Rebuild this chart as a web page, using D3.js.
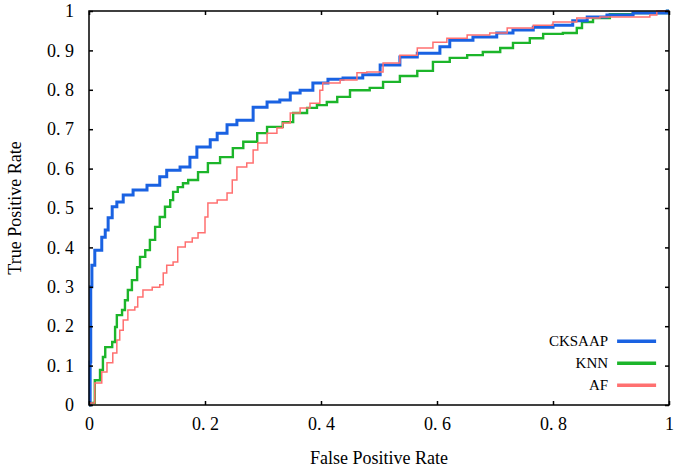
<!DOCTYPE html>
<html>
<head>
<meta charset="utf-8">
<script src="https://cdn.jsdelivr.net/npm/d3@7"></script>
<style>
  body { margin: 0; background: #fff; }
  svg text { font-family: "Liberation Serif", "DejaVu Serif", serif; fill: #000; }
</style>
</head>
<body>
<svg id="chart" width="675" height="470"></svg>
<script>
// ROC points: [false positive rate, true positive rate]
const cksaap = [[0,0],[0.002,0.109],[0.003,0.30],[0.005,0.355],[0.010,0.393],[0.022,0.426],[0.028,0.444],
    [0.033,0.475],[0.040,0.503],[0.048,0.515],[0.059,0.533],[0.076,0.546],[0.100,0.558],[0.122,0.579],
    [0.134,0.596],[0.157,0.604],[0.174,0.629],[0.186,0.655],[0.209,0.673],[0.221,0.690],[0.238,0.711],
    [0.255,0.723],[0.283,0.756],[0.307,0.769],[0.329,0.774],[0.347,0.792],[0.364,0.799],[0.386,0.817],
    [0.412,0.827],[0.438,0.830],[0.472,0.838],[0.502,0.863],[0.536,0.883],[0.566,0.893],[0.605,0.909],
    [0.622,0.926],[0.662,0.934],[0.703,0.944],[0.731,0.952],[0.766,0.959],[0.800,0.964],[0.834,0.975],
    [0.859,0.985],[0.893,0.990],[0.938,0.995],[0.997,1],[1,1]]
const knn = [[0,0],[0.002,0.005],[0.010,0.063],[0.019,0.089],[0.024,0.122],[0.028,0.147],[0.040,0.160],
    [0.045,0.198],[0.048,0.228],[0.057,0.241],[0.062,0.266],[0.067,0.292],[0.074,0.317],[0.083,0.350],
    [0.088,0.376],[0.097,0.393],[0.105,0.419],[0.114,0.452],[0.122,0.477],[0.131,0.503],[0.140,0.520],
    [0.145,0.541],[0.153,0.553],[0.162,0.563],[0.171,0.571],[0.188,0.591],[0.205,0.614],[0.226,0.629],
    [0.248,0.652],[0.266,0.668],[0.290,0.690],[0.307,0.706],[0.334,0.718],[0.352,0.741],[0.376,0.754],
    [0.393,0.761],[0.410,0.769],[0.428,0.782],[0.450,0.799],[0.484,0.805],[0.507,0.820],[0.536,0.835],
    [0.566,0.848],[0.593,0.871],[0.622,0.881],[0.652,0.888],[0.679,0.896],[0.709,0.906],[0.731,0.919],
    [0.760,0.931],[0.783,0.942],[0.817,0.944],[0.841,0.957],[0.850,0.972],[0.869,0.982],[0.898,0.992],
    [0.938,0.995],[0.997,1],[1,1]]
const af = [[0,0],[0.002,0.005],[0.010,0.056],[0.022,0.084],[0.031,0.107],[0.041,0.132],[0.048,0.165],
    [0.053,0.190],[0.059,0.216],[0.067,0.241],[0.079,0.249],[0.084,0.274],[0.093,0.292],[0.109,0.299],
    [0.122,0.305],[0.128,0.335],[0.134,0.355],[0.145,0.363],[0.153,0.401],[0.166,0.414],[0.178,0.424],
    [0.188,0.437],[0.200,0.477],[0.205,0.513],[0.221,0.520],[0.238,0.538],[0.247,0.571],[0.255,0.604],
    [0.272,0.614],[0.283,0.647],[0.291,0.665],[0.307,0.690],[0.324,0.703],[0.334,0.716],[0.347,0.741],
    [0.364,0.754],[0.381,0.766],[0.398,0.799],[0.403,0.817],[0.433,0.825],[0.462,0.843],[0.479,0.845],
    [0.507,0.868],[0.536,0.888],[0.566,0.906],[0.593,0.921],[0.617,0.931],[0.652,0.939],[0.691,0.944],
    [0.721,0.957],[0.766,0.964],[0.800,0.972],[0.841,0.982],[0.881,0.985],[0.928,0.985],[0.967,0.990],
    [0.979,1],[1,1]]

const names = ["CKSAAP", "KNN", "AF"]
const colors = ["#1a62e2", "#1cb52a", "#ff7070"]
const widths = [3, 2.4, 1.5]
const xTicks = [0, 0.2, 0.4, 0.6, 0.8, 1]
const yTicks = [0, 0.1, 0.2, 0.3, 0.4, 0.5, 0.6, 0.7, 0.8, 0.9, 1]
const fmt = d => d === 0 || d === 1 ? String(d) : d.toFixed(1).replace(".", ". ")

const margin = { top: 11, right: 6, bottom: 65, left: 89 }
const w = 675, h = 470
const width = w - margin.left - margin.right
const height = h - margin.top - margin.bottom

const svg = d3.select("#chart")
const chart = svg.append("g").attr("transform", `translate(${margin.left}, ${margin.top})`)

const x = d3.scaleLinear().domain([0, 1]).range([0, width])
const y = d3.scaleLinear().domain([0, 1]).range([height, 0])

const line = d3.line()
    .x(d => x(d[0]))
    .y(d => y(d[1]))
    .curve(d3.curveStepAfter)

// curves, thinnest on top like the original
const series = [cksaap, knn, af]
;[1, 0, 2].forEach(i => {
    chart.append("path")
        .datum(series[i])
        .attr("fill", "none")
        .attr("stroke", colors[i])
        .attr("stroke-width", widths[i])
        .attr("d", line)
})

// axes with inward ticks on all four sides
const styleAxis = g => {
    g.select(".domain").remove()
    g.selectAll(".tick line").attr("stroke", "#000").attr("stroke-width", 1.5)
    g.selectAll("text").style("font-size", "18px")
}
chart.append("g")
    .attr("transform", `translate(0, ${height})`)
    .call(d3.axisBottom(x).tickValues(xTicks).tickFormat(fmt).tickSizeInner(-4).tickSizeOuter(0).tickPadding(12))
    .call(styleAxis)
chart.append("g")
    .call(d3.axisLeft(y).tickValues(yTicks).tickFormat(fmt).tickSizeInner(-4).tickSizeOuter(0).tickPadding(15))
    .call(styleAxis)
chart.append("g")
    .call(d3.axisTop(x).tickValues(xTicks).tickFormat("").tickSizeInner(-4).tickSizeOuter(0))
    .call(styleAxis)
chart.append("g")
    .attr("transform", `translate(${width}, 0)`)
    .call(d3.axisRight(y).tickValues(yTicks).tickFormat("").tickSizeInner(-4).tickSizeOuter(0))
    .call(styleAxis)

chart.append("rect")
    .attr("width", width)
    .attr("height", height)
    .attr("fill", "none")
    .attr("stroke", "#000")
    .attr("stroke-width", 1.5)

// legend
const legend = chart.append("g").attr("transform", `translate(${x(0.895)}, ${y(0.162)})`)
names.forEach((n, i) => {
    const row = legend.append("g").attr("transform", `translate(0, ${i * 22})`)
    row.append("text")
        .attr("x", 0)
        .attr("dy", "0.35em")
        .style("text-anchor", "end")
        .style("font-size", "15px")
        .text(n)
    row.append("line")
        .attr("x1", 9).attr("x2", 48)
        .attr("stroke", colors[i])
        .attr("stroke-width", 3.5)
})

chart.append("text")
    .attr("x", width / 2)
    .attr("y", height + 59)
    .style("text-anchor", "middle")
    .style("font-size", "18px")
    .text("False Positive Rate")

chart.append("text")
    .attr("transform", "rotate(-90)")
    .attr("x", -height / 2)
    .attr("y", -margin.left + 21)
    .style("text-anchor", "middle")
    .style("font-size", "18px")
    .text("True Positive Rate")
</script>
</body>
</html>
